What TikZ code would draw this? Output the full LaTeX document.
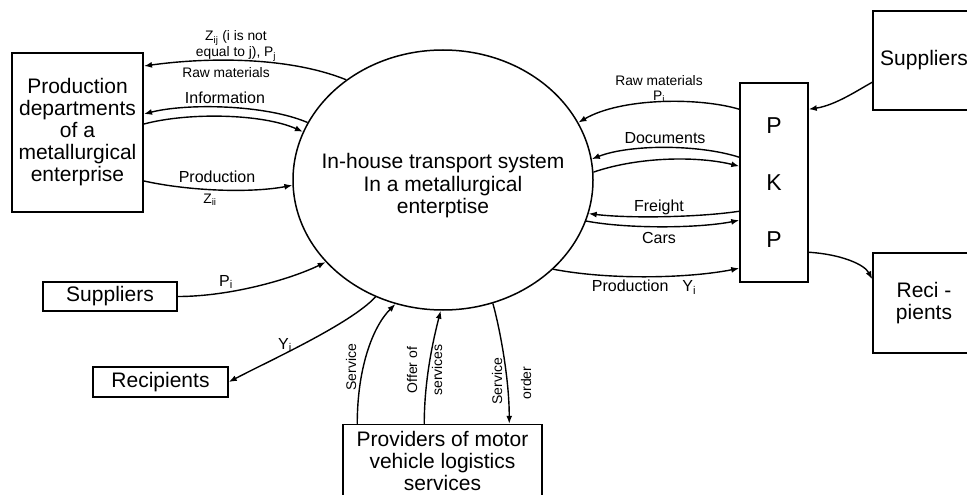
\documentclass[tikz,border=0pt]{standalone}
\usepackage{fontspec}
\setmainfont{Liberation Sans}
\usetikzlibrary{shapes.geometric,arrows.meta}
\begin{document}
\begin{tikzpicture}[x=1pt,y=-1pt,
  blk/.style={draw, line width=1.5pt, inner sep=0pt, align=center, font=\fontsize{21}{22}\selectfont},
  flow/.style={line width=1.4pt, -{Latex[length=8pt,width=6pt]}},
  lbl/.style={inner sep=0pt, align=center, font=\fontsize{16}{18}\selectfont},
  smlbl/.style={inner sep=0pt, align=center, font=\fontsize{13.8}{16}\selectfont},
  vlbl/.style={inner sep=0pt, rotate=90, font=\fontsize{14}{16}\selectfont}]
\useasboundingbox (0,0) rectangle (967,495);
\node[blk, line width=2pt, minimum width=131pt, minimum height=159pt] (prod) at (77.5,132.5) {Production\\departments\\of a\\metallurgical\\enterprise};
\node[blk, ellipse, minimum width=300pt, minimum height=260pt] (its) at (443,180) {};
\node[align=center, inner sep=0pt, font=\fontsize{21}{22.5}\selectfont] (itstext) at (443,186) {In-house transport system\\In a metallurgical\\enterptise};
\node[blk, minimum width=134pt, minimum height=29pt] (supl) at (110,296.5) {Suppliers};
\node[blk, minimum width=135pt, minimum height=30pt] (recl) at (160.5,382) {Recipients};
\node[blk, minimum width=199pt, minimum height=73pt] (prov) at (442.5,461) {Providers of motor\\vehicle logistics\\services};
\node[blk, minimum width=68pt, minimum height=199pt, font=\fontsize{23}{57}\selectfont] (pkp) at (774,182.5) {P\\K\\P};
\node[blk, minimum width=102pt, minimum height=99pt] (supr) at (924,60.5) {Suppliers};
\node[blk, minimum width=102pt, minimum height=100pt] (recr) at (924,303) {Reci -\\pients};
\draw[flow] (its.134) .. controls +(-57,-23) and +(65,-9) .. ([yshift=-14pt]prod.north east);
\draw[flow] (its.157) .. controls +(-42,-18) and +(43,-11) .. ([yshift=-62pt]prod.north east);
\draw[flow] ([yshift=-72pt]prod.north east) .. controls +(45,-12) and +(-40,-18) .. (its.161);
\draw[flow] ([yshift=-129pt]prod.north east) .. controls +(45,10) and +(-42,8) .. (its.182);
\draw[flow] ([yshift=-27pt]pkp.north west) .. controls +(-40,-12) and +(43,-25) .. (its.23);
\draw[flow] ([yshift=-75pt]pkp.north west) .. controls +(-40,-13) and +(38,-15) .. (its.8);
\draw[flow] (its.3) .. controls +(47,-16) and +(-40,-10) .. ([yshift=-84pt]pkp.north west);
\draw[flow] ([yshift=-129pt]pkp.north west) .. controls +(-40,6) and +(42,5) .. (its.347);
\draw[flow] (its.344) .. controls +(42,8) and +(-40,8) .. ([yshift=-138pt]pkp.north west);
\draw[flow] (its.321) .. controls +(57,11) and +(-50,10) .. ([yshift=-186pt]pkp.north west);
\draw[flow] ([yshift=-72pt]supr.north west) .. controls +(-13,7) and +(27,-4) .. ([yshift=-27pt]pkp.north east);
\draw[flow] ([yshift=-170pt]pkp.north east) .. controls +(32,2) and +(-8,-15) .. ([yshift=-27pt]recr.north west);
\draw[flow] (supl.east) .. controls +(53,0) and +(-35,17) .. (its.215);
\draw[flow] (its.240) .. controls +(-25,27) and +(42,-22) .. (recl.east);
\draw[flow] ([xshift=15pt]prov.north west) .. controls +(0,-55) and +(-23,23) .. (its.249);
\draw[flow] ([xshift=82pt]prov.north west) .. controls +(0,-45) and +(-7,27) .. (its.269);
\draw[flow] (its.292) .. controls +(7,25) and +(0,-45) .. ([xshift=167pt]prov.north west);
\node[smlbl] (zij) at (236,46) {Z\textsubscript{ij} (i is not\\equal to j), P\textsubscript{j}};
\node[smlbl] (rawl) at (226,73) {Raw materials};
\node[lbl] (info) at (225,98) {Information};
\node[lbl] (prodl) at (217,177) {Production};
\node[smlbl] (zii) at (210,200) {Z\textsubscript{ii}};
\node[smlbl] (rawr) at (659,81) {Raw materials};
\node[smlbl] (pir) at (659,97) {P\textsubscript{i}};
\node[lbl] (docs) at (665,138) {Documents};
\node[lbl] (frt) at (659,207) {Freight};
\node[lbl] (cars) at (659,238) {Cars};
\node[lbl] (prody) at (644,287) {Production\hspace{14pt}Y\textsubscript{i}};
\node[lbl] (pil) at (226,282) {P\textsubscript{i}};
\node[lbl] (yil) at (285,345) {Y\textsubscript{i}};
\node[vlbl] (serv) at (351,367) {Service};
\node[vlbl] (offer) at (412,370) {Offer of};
\node[vlbl] (servs) at (437,370) {services};
\node[vlbl] (sord) at (497,381) {Service};
\node[vlbl] (order) at (526,383) {order};
\end{tikzpicture}
\end{document}
